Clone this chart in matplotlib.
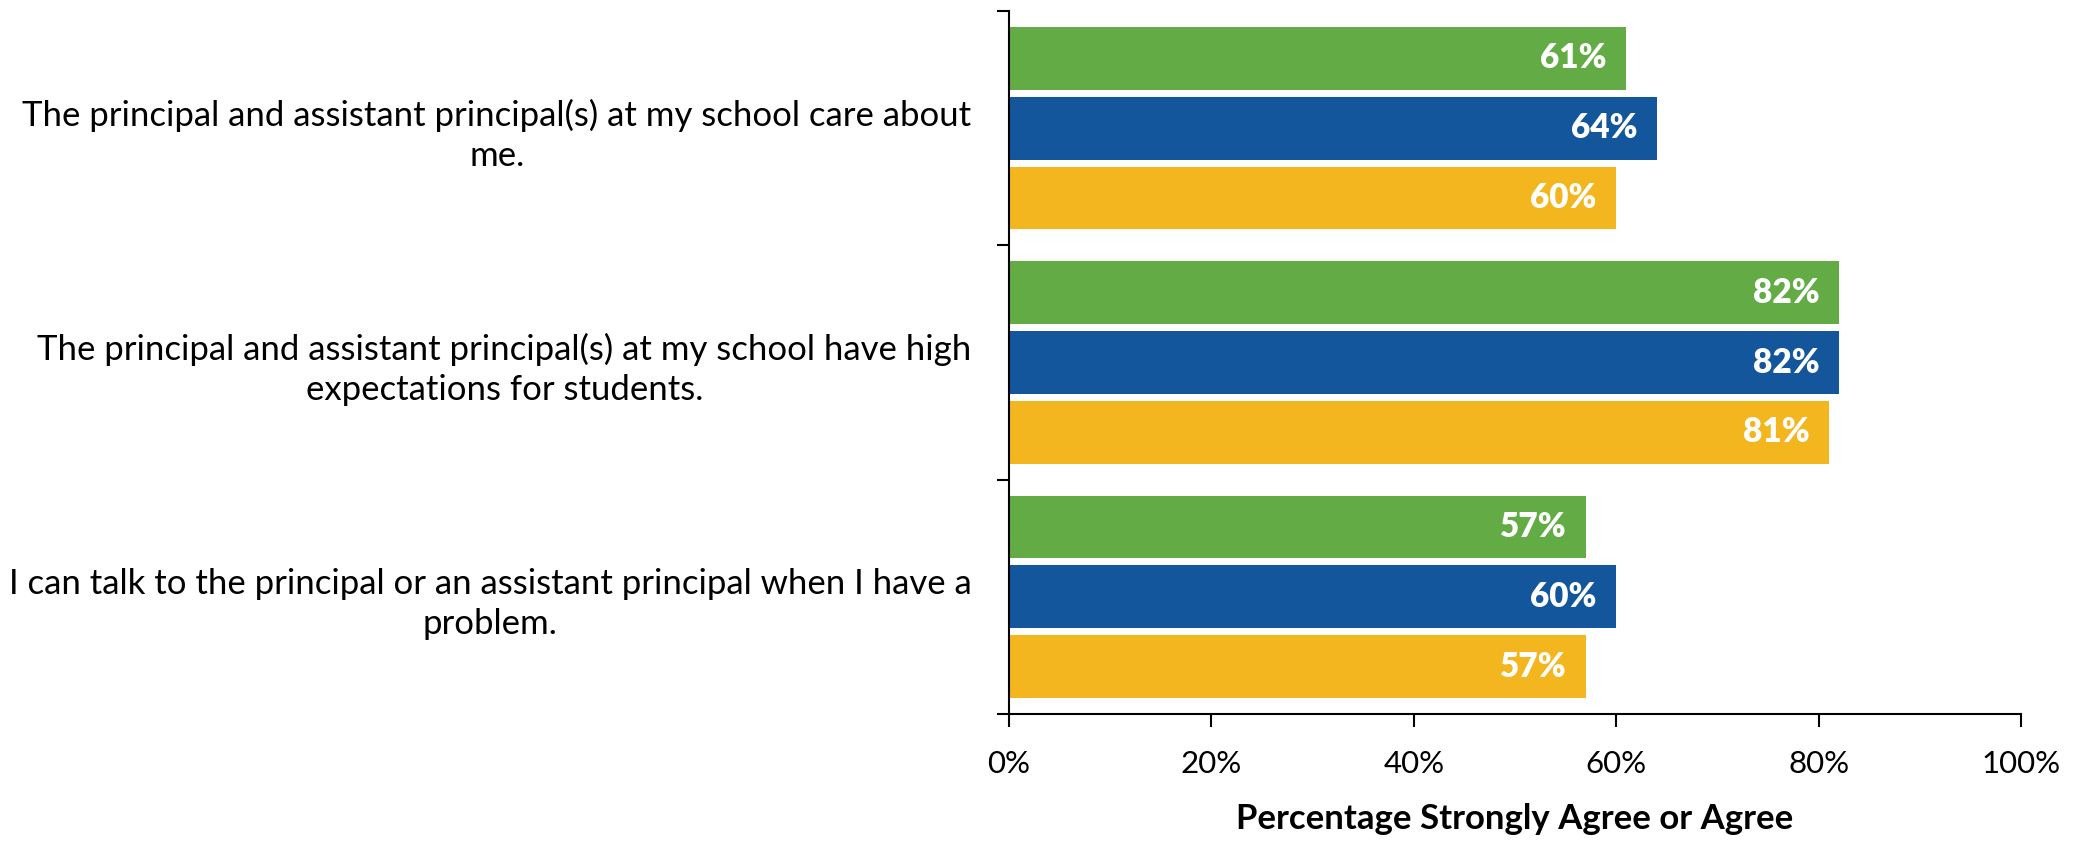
import matplotlib
matplotlib.use("Agg")
import matplotlib.pyplot as plt
import numpy as np

plt.rcParams['font.family'] = ['Lato', 'DejaVu Sans']

categories = [
    "The principal and assistant principal(s) at my school care about\nme.",
    "The principal and assistant principal(s) at my school have high\nexpectations for students.",
    "I can talk to the principal or an assistant principal when I have a\nproblem.",
]
series_green = [61, 82, 57]
series_blue = [64, 82, 60]
series_yellow = [60, 81, 57]
x_ticks = [0, 20, 40, 60, 80, 100]
x_tick_labels = ["0%", "20%", "40%", "60%", "80%", "100%"]
x_label = "Percentage Strongly Agree or Agree"

colors = ["#63AC45", "#14569B", "#F3B61F"]
series = [series_green, series_blue, series_yellow]

fig = plt.figure(figsize=(20.81, 8.41), dpi=100)
ax = fig.add_axes([1009 / 2081, 1 - 714 / 841, (2021 - 1009) / 2081, (714 - 11) / 841])

y = np.arange(len(categories))
step = 0.298
h = 0.268
offsets = [-step, 0, step]
for vals, col, off in zip(series, colors, offsets):
    bars = ax.barh(y + off, vals, height=h, color=col, edgecolor='none')
    for b, v in zip(bars, vals):
        ax.annotate(f"{v}%", xy=(b.get_width(), b.get_y() + b.get_height() / 2),
                    xytext=(-14, 0), textcoords="offset points",
                    ha='right', va='center', color='white', fontsize=24,
                    fontweight='heavy')

ax.set_xlim(0, 100)
ax.set_ylim(len(categories) - 0.5, -0.5)

ax.set_xticks(x_ticks)
ax.set_xticklabels(x_tick_labels, fontsize=22.5)
ax.tick_params(axis='x', direction='out', length=9, width=1.5, pad=17, colors='black')

ax.set_yticks(np.arange(len(categories) + 1) - 0.5)
ax.set_yticklabels([])
ax.set_yticks(y, minor=True)
ax.set_yticklabels(categories, minor=True, fontsize=25, multialignment='center',
                   linespacing=1.3)
ax.tick_params(axis='y', which='major', direction='out', length=9, width=1.5)
ax.tick_params(axis='y', which='minor', length=0, pad=27)

ax.set_xlabel(x_label, fontsize=25, fontweight='bold', labelpad=18)

for s in ['top', 'right']:
    ax.spines[s].set_visible(False)
for s in ['left', 'bottom']:
    ax.spines[s].set_linewidth(1.5)
    ax.spines[s].set_color('black')

fig.savefig("out.png", dpi=100)
